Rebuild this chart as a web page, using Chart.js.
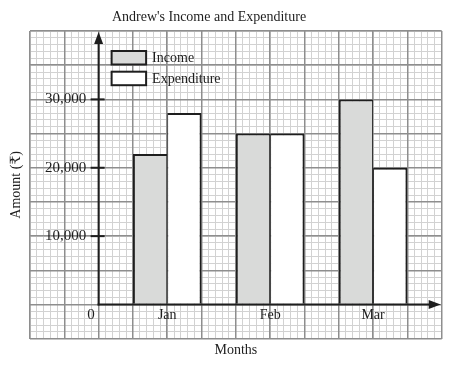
<!DOCTYPE html>
<html>
<head>
<meta charset="utf-8">
<script src="https://cdn.jsdelivr.net/npm/chart.js@4/dist/chart.umd.min.js"></script>
<style>
html, body { margin: 0; padding: 0; background: #ffffff; }
#wrap { width: 450px; height: 365px; }
</style>
</head>
<body>
<div id="wrap"><canvas id="c" width="450" height="365"></canvas></div>
<script>
// ---- data ----
const chartTitle = "Andrew's Income and Expenditure";
const categories = ['Jan', 'Feb', 'Mar'];
const seriesNames = ['Income', 'Expenditure'];
const income = [22000, 25000, 30000];
const expenditure = [28000, 25000, 20000];
const yTickValues = [10000, 20000, 30000];
const yTickLabels = ['10,000', '20,000', '30,000'];
const originLabel = '0';
const xTitle = 'Months';
const yTitle = 'Amount (\u20B9)';

// ---- graph-paper layout (in paper cells) ----
const paperXMin = -2, paperXMax = 10;      // major cells across
const firstMonthCell = 2, monthSpacing = 3; // month centres on the paper
const paperYMin = -5000, paperYMax = 40000;
const monthCell = i => firstMonthCell + i * monthSpacing;

const serif = '"Liberation Serif", "Times New Roman", "DejaVu Serif", serif';
const ink = '#1e1e1e';
const minorColor = '#d2d2d2';
const majorColor = '#8e8e8e';

const paperPlugin = {
  id: 'paper',
  afterDatasetsDraw(chart) {
    const ctx = chart.ctx;
    const xs = chart.scales.x, ys = chart.scales.y;
    const area = chart.chartArea;
    const x0 = xs.getPixelForValue(0);
    const y0 = ys.getPixelForValue(0);
    const xTip = area.right - 1;
    const yTip = area.top + 1;
    ctx.save();
    ctx.strokeStyle = ink;
    ctx.fillStyle = ink;
    ctx.lineWidth = 2;
    // y axis with arrow
    ctx.beginPath();
    ctx.moveTo(x0, y0 + 1);
    ctx.lineTo(x0, yTip + 8);
    ctx.stroke();
    ctx.beginPath();
    ctx.moveTo(x0, yTip);
    ctx.lineTo(x0 - 4.5, yTip + 12);
    ctx.lineTo(x0 + 4.5, yTip + 12);
    ctx.closePath();
    ctx.fill();
    // x axis with arrow
    ctx.beginPath();
    ctx.moveTo(x0 - 1, y0);
    ctx.lineTo(xTip - 8, y0);
    ctx.stroke();
    ctx.beginPath();
    ctx.moveTo(xTip, y0);
    ctx.lineTo(xTip - 12, y0 - 4.5);
    ctx.lineTo(xTip - 12, y0 + 4.5);
    ctx.closePath();
    ctx.fill();
    // y tick marks
    yTickValues.forEach(v => {
      const y = ys.getPixelForValue(v);
      ctx.beginPath();
      ctx.moveTo(x0 - 8, y);
      ctx.lineTo(x0 + 6, y);
      ctx.stroke();
    });
    // origin label
    ctx.font = '15px ' + serif;
    ctx.textAlign = 'center';
    ctx.textBaseline = 'middle';
    ctx.fillText(originLabel, x0 - 7.5, y0 + 11);
    // legend
    const ds = chart.data.datasets;
    const lx = x0 + 13, lw = 34.5, lh = 13.5;
    const ly = [area.top + 20, area.top + 40.7];
    ctx.font = '14px ' + serif;
    ctx.textAlign = 'left';
    ds.forEach((d, i) => {
      ctx.fillStyle = d.backgroundColor;
      ctx.fillRect(lx, ly[i], lw, lh);
      ctx.strokeStyle = ink;
      ctx.lineWidth = 2;
      ctx.strokeRect(lx, ly[i], lw, lh);
      ctx.fillStyle = ink;
      ctx.fillText(d.label, lx + lw + 6, ly[i] + lh / 2 + 0.5);
    });
    // chart title
    ctx.font = '14px ' + serif;
    ctx.textAlign = 'center';
    ctx.fillStyle = ink;
    ctx.fillText(chartTitle, 209, 17);
    ctx.restore();
  }
};

const chart = new Chart(document.getElementById('c'), {
  type: 'bar',
  data: {
    datasets: [
      {
        label: seriesNames[0],
        data: categories.map((c, i) => ({ x: monthCell(i), y: income[i] })),
        backgroundColor: '#d9dad9',
        borderColor: ink,
        borderWidth: { top: 2, left: 2, right: 1, bottom: 0 },
        categoryPercentage: 2,
        barPercentage: 1,
        inflateAmount: 0,
        xAxisID: 'x',
        yAxisID: 'y'
      },
      {
        label: seriesNames[1],
        data: categories.map((c, i) => ({ x: monthCell(i), y: expenditure[i] })),
        backgroundColor: '#ffffff',
        borderColor: ink,
        borderWidth: { top: 2, left: 1, right: 2, bottom: 0 },
        categoryPercentage: 2,
        barPercentage: 1,
        inflateAmount: 0,
        xAxisID: 'x',
        yAxisID: 'y'
      }
    ]
  },
  options: {
    responsive: false,
    animation: false,
    devicePixelRatio: 1,
    layout: { padding: { top: 31, right: 8.3, left: 0, bottom: 0 } },
    plugins: {
      legend: { display: false },
      title: { display: false },
      tooltip: { enabled: false }
    },
    scales: {
      xMinor: {
        type: 'linear', position: 'bottom', min: paperXMin, max: paperXMax, offset: false,
        ticks: { display: false, stepSize: 0.2 },
        grid: { color: minorColor, lineWidth: 1, drawTicks: false, offset: false, z: -2 },
        border: { display: false }
      },
      yMinor: {
        type: 'linear', position: 'left', min: paperYMin, max: paperYMax,
        ticks: { display: false, stepSize: 1000 },
        grid: { color: minorColor, lineWidth: 1, drawTicks: false, z: -2 },
        border: { display: false }
      },
      x: {
        type: 'linear', position: 'bottom', min: paperXMin, max: paperXMax, offset: false,
        ticks: {
          stepSize: 1, autoSkip: false, maxRotation: 0, minRotation: 0,
          mirror: true, padding: 0, color: ink,
          font: { family: serif, size: 14, lineHeight: 47.4 / 14 },
          callback: (v) => {
            const i = categories.findIndex((c, k) => monthCell(k) === v);
            return i >= 0 ? categories[i] : '';
          }
        },
        grid: { color: majorColor, lineWidth: 1.5, drawTicks: false, offset: false, z: -1 },
        border: { display: false },
        title: {
          display: true, text: xTitle, color: ink,
          font: { family: serif, size: 14 },
          padding: { top: 0, bottom: 6.6 }
        },
        afterFit: (s) => { s.height = 26.3; s.paddingLeft = 0; s.paddingRight = 0; }
      },
      y: {
        type: 'linear', position: 'left', min: paperYMin, max: paperYMax,
        ticks: {
          stepSize: 5000, autoSkip: false, mirror: true, padding: 15, color: ink,
          font: { family: serif, size: 15 },
          callback: (v) => {
            const i = yTickValues.indexOf(v);
            return i >= 0 ? yTickLabels[i] : '';
          }
        },
        grid: { color: majorColor, lineWidth: 1.5, drawTicks: false, z: -1 },
        border: { display: false },
        title: {
          display: true, text: yTitle, color: ink,
          font: { family: serif, size: 14 },
          padding: { top: 7.6, bottom: 0 }
        },
        afterFit: (s) => { s.width = 30; s.paddingTop = 0; s.paddingBottom = 0; }
      }
    }
  },
  plugins: [paperPlugin]
});
</script>
</body>
</html>
